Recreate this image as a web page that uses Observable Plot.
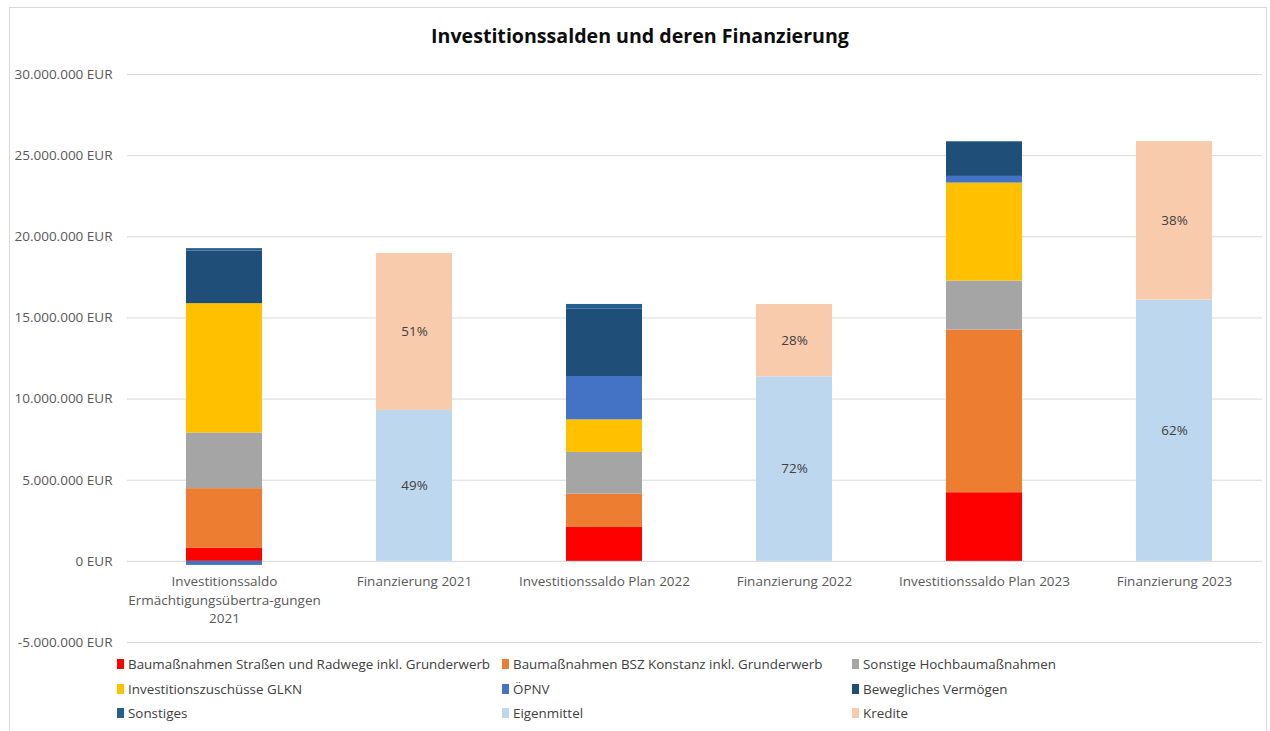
<!DOCTYPE html>
<html>
<head>
<meta charset="utf-8">
<script src="https://cdn.jsdelivr.net/npm/d3@7"></script>
<script src="https://cdn.jsdelivr.net/npm/@observablehq/plot@0.6"></script>
<style>
  html, body { margin: 0; padding: 0; background: #fff; overflow: hidden; }
  #page { position: relative; width: 1270px; height: 731px; font-family: "Open Sans", "Noto Sans", sans-serif; }
  #frame { position: absolute; left: 9px; top: 7px; width: 1258px; height: 760px; border: 1px solid #d9d9d9; box-sizing: border-box; }
  #title { position: absolute; left: 0; top: 22px; width: 1280px; text-align: center; font-size: 19.6px; font-weight: bold; color: #0d0d0d; line-height: 28px; }
  #chart { position: absolute; left: 0; top: 55px; }
  #legend { position: absolute; left: 0; top: 652px; width: 1270px; height: 75px; }
  .li { position: absolute; font-size: 13.4px; color: #404040; line-height: 16px; white-space: nowrap; }
  .sw { position: absolute; width: 7px; height: 10px; top: 3px; }
</style>
</head>
<body>
<div id="page">
  <div id="frame"></div>
  <div id="title">Investitionssalden und deren Finanzierung</div>
  <div id="chart"></div>
  <div id="legend"></div>
</div>
<script>
// ---- data (EUR) ----
const categories = [
  "Investitionssaldo Ermächtigungsübertra-gungen 2021",
  "Finanzierung 2021",
  "Investitionssaldo Plan 2022",
  "Finanzierung 2022",
  "Investitionssaldo Plan 2023",
  "Finanzierung 2023"
];
const categoryLabels = [
  "Investitionssaldo\nErmächtigungsübertra-gungen\n2021",
  "Finanzierung 2021",
  "Investitionssaldo Plan 2022",
  "Finanzierung 2022",
  "Investitionssaldo Plan 2023",
  "Finanzierung 2023"
];
const seriesNames = [
  "Baumaßnahmen Straßen und Radwege inkl. Grunderwerb",
  "Baumaßnahmen BSZ Konstanz inkl. Grunderwerb",
  "Sonstige Hochbaumaßnahmen",
  "Investitionszuschüsse GLKN",
  "ÖPNV",
  "Bewegliches Vermögen",
  "Sonstiges",
  "Eigenmittel",
  "Kredite"
];
const seriesColors = ["#FF0000", "#ED7D31", "#A5A5A5", "#FFC000", "#4472C4", "#1F4E79", "#255E91", "#BDD7EE", "#F8CBAD"];

const strassen   = [820000, 0, 2090000, 0, 4230000, 0];
const bsz        = [3660000, 0, 2050000, 0, 10020000, 0];
const hochbau    = [3430000, 0, 2570000, 0, 3020000, 0];
const glkn       = [7970000, 0, 2010000, 0, 6040000, 0];
const oepnv      = [-250000, 0, 2670000, 0, 410000, 0];
const beweglich  = [3240000, 0, 4170000, 0, 2110000, 0];
const sonstiges  = [150000, 0, 270000, 0, 40000, 0];
const eigenmittel = [0, 9300000, 0, 11370000, 0, 16100000];
const kredite     = [0, 9670000, 0, 4460000, 0, 9770000];

const eigenLabels   = ["", "49%", "", "72%", "", "62%"];
const krediteLabels = ["", "51%", "", "28%", "", "38%"];

const yTicks = [-5000000, 0, 5000000, 10000000, 15000000, 20000000, 25000000, 30000000];

// ---- build table ----
const seriesValues = [strassen, bsz, hochbau, glkn, oepnv, beweglich, sonstiges, eigenmittel, kredite];
const seriesLabels = [null, null, null, null, null, null, null, eigenLabels, krediteLabels];
const rows = [];
categories.forEach((c, i) => {
  seriesNames.forEach((s, j) => {
    rows.push({cat: c, series: s, value: seriesValues[j][i], label: seriesLabels[j] ? seriesLabels[j][i] : ""});
  });
});
const catLabelRows = categories.map((c, i) => ({cat: c, label: categoryLabels[i]}));

const de = d3.formatLocale({decimal: ",", thousands: ".", grouping: [3], currency: ["", " EUR"], minus: "-"});
const fmt = de.format(",.0f");

const chart = Plot.plot({
  width: 1270,
  height: 600,
  marginTop: 19,
  marginBottom: 13,
  marginLeft: 127,
  marginRight: 8,
  style: {fontFamily: "'Open Sans', 'Noto Sans', sans-serif", fontSize: "13px", color: "#595959", background: "transparent"},
  x: {domain: categories, range: [127, 1270], paddingInner: 0.6, paddingOuter: 0.3, axis: null},
  y: {domain: [-5000000, 30000000], axis: null},
  color: {domain: seriesNames, range: seriesColors},
  marks: [
    Plot.gridY(yTicks, {stroke: "#d9d9d9", strokeOpacity: 1, strokeWidth: 1}),
    Plot.axisY(yTicks, {tickSize: 0, tickPadding: 15, label: null, tickFormat: d => fmt(d) + " EUR", fill: "#595959", fontSize: 13.5}),
    Plot.barY(rows, {x: "cat", y: "value", fill: "series", z: "series"}),
    Plot.text(rows.filter(d => d.label), Plot.stackY({x: "cat", y: "value", z: "series", text: "label", fill: "#404040", fontSize: 13.4})),
    Plot.text(catLabelRows, {x: "cat", y: () => 0, text: "label", lineAnchor: "top", dy: 12, lineHeight: 1.36, fill: "#595959", fontSize: 13.5})
  ]
});
document.getElementById("chart").appendChild(chart);

// ---- legend ----
const legendCols = [117, 502, 852];
const legendRows = [0, 25, 49];
const legend = document.getElementById("legend");
seriesNames.forEach((s, i) => {
  const col = i % 3, row = Math.floor(i / 3);
  const item = document.createElement("div");
  item.className = "li";
  item.style.left = legendCols[col] + "px";
  item.style.top = (legendRows[row] + 4) + "px";
  const sw = document.createElement("span");
  sw.className = "sw";
  sw.style.left = "0px";
  sw.style.background = seriesColors[i];
  item.appendChild(sw);
  const t = document.createElement("span");
  t.style.marginLeft = "11px";
  t.textContent = s;
  item.appendChild(t);
  legend.appendChild(item);
});
</script>
</body>
</html>
